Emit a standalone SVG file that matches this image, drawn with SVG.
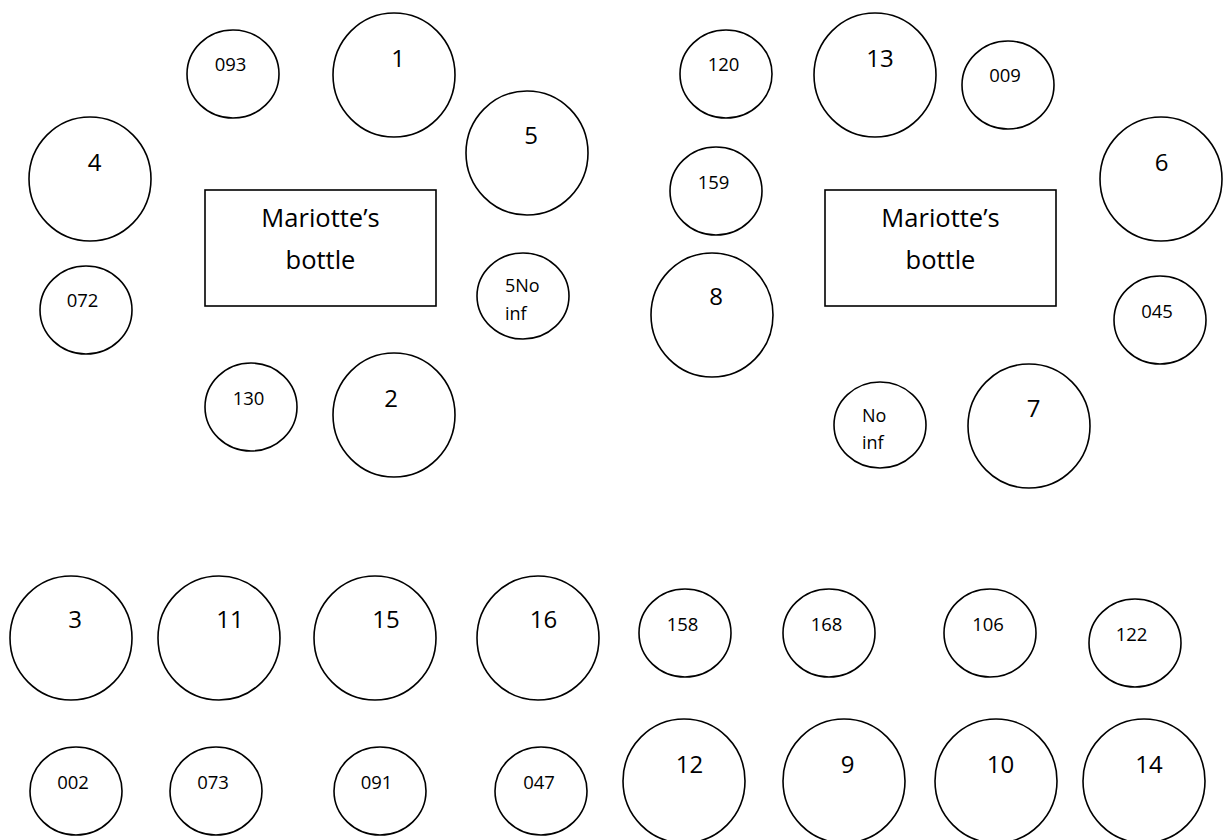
<svg xmlns="http://www.w3.org/2000/svg" width="1223" height="840" viewBox="0 0 1223 840">
<style>
  .c { fill: #ffffff; stroke: #000000; stroke-width: 1.6; }
  .b { fill: #ffffff; stroke: #000000; stroke-width: 1.6; }
  text { font-family: "Open Sans", "Liberation Sans", sans-serif; fill: #000000; }
  .s { font-size: 18.5px; text-anchor: middle; }
  .sl { font-size: 18px; }
  .L { font-size: 24px; text-anchor: middle; }
  .m { font-size: 25.5px; text-anchor: middle; }
</style>
<rect x="0" y="0" width="1223" height="840" fill="#ffffff"/>
<g id="connectors"/>

<g id="bottle-left"><rect class="b" x="205" y="190" width="231" height="116"/><text class="m" x="320.5" y="227">Mariotte’s</text><text class="m" x="320.5" y="269">bottle</text></g>
<g id="n093"><ellipse class="c" cx="233" cy="74" rx="46" ry="44"/><text class="s" x="230.5" y="71">093</text></g>
<g id="n1"><ellipse class="c" cx="394" cy="75" rx="61" ry="62"/><text class="L" x="398" y="67">1</text></g>
<g id="n4"><ellipse class="c" cx="90" cy="179" rx="61" ry="62"/><text class="L" x="94.5" y="171">4</text></g>
<g id="n072"><ellipse class="c" cx="86" cy="310" rx="46" ry="44"/><text class="s" x="82.5" y="307">072</text></g>
<g id="n5"><ellipse class="c" cx="527" cy="153" rx="61" ry="62"/><text class="L" x="531" y="144">5</text></g>
<g id="n5noinf"><ellipse class="c" cx="523" cy="296" rx="46" ry="43"/><text class="sl" x="505" y="292">5No</text><text class="sl" x="505" y="320">inf</text></g>
<g id="n130"><ellipse class="c" cx="251" cy="407" rx="46" ry="44"/><text class="s" x="248.5" y="405">130</text></g>
<g id="n2"><ellipse class="c" cx="394" cy="415" rx="61" ry="62"/><text class="L" x="391" y="407">2</text></g>

<g id="bottle-right"><rect class="b" x="825" y="190" width="231" height="116"/><text class="m" x="940.5" y="227">Mariotte’s</text><text class="m" x="940.5" y="269">bottle</text></g>
<g id="n120"><ellipse class="c" cx="726" cy="74" rx="46" ry="44"/><text class="s" x="723.5" y="71">120</text></g>
<g id="n13"><ellipse class="c" cx="875" cy="75" rx="61" ry="62"/><text class="L" x="880" y="67">13</text></g>
<g id="n009"><ellipse class="c" cx="1008" cy="85" rx="46" ry="44"/><text class="s" x="1005" y="82">009</text></g>
<g id="n159"><ellipse class="c" cx="716" cy="191" rx="46" ry="44"/><text class="s" x="713.5" y="189">159</text></g>
<g id="n8"><ellipse class="c" cx="712" cy="315" rx="61" ry="62"/><text class="L" x="716" y="305">8</text></g>
<g id="n6"><ellipse class="c" cx="1161" cy="179" rx="61" ry="62"/><text class="L" x="1161.5" y="171">6</text></g>
<g id="n045"><ellipse class="c" cx="1160" cy="320" rx="46" ry="44"/><text class="s" x="1157" y="318">045</text></g>
<g id="nnoinf"><ellipse class="c" cx="880" cy="425" rx="46" ry="43"/><text class="sl" x="862" y="422">No</text><text class="sl" x="862" y="449">inf</text></g>
<g id="n7"><ellipse class="c" cx="1029" cy="426" rx="61" ry="62"/><text class="L" x="1033.5" y="417">7</text></g>

<g id="n3"><ellipse class="c" cx="71" cy="638" rx="61" ry="62"/><text class="L" x="75" y="628">3</text></g>
<g id="n11"><ellipse class="c" cx="219" cy="638" rx="61" ry="62"/><text class="L" x="230" y="628">11</text></g>
<g id="n15"><ellipse class="c" cx="375" cy="638" rx="61" ry="62"/><text class="L" x="386" y="628">15</text></g>
<g id="n16"><ellipse class="c" cx="538" cy="638" rx="61" ry="62"/><text class="L" x="543.5" y="628">16</text></g>
<g id="n158"><ellipse class="c" cx="685" cy="633" rx="46" ry="44"/><text class="s" x="682.5" y="631">158</text></g>
<g id="n168"><ellipse class="c" cx="829" cy="633" rx="46" ry="44"/><text class="s" x="826.5" y="631">168</text></g>
<g id="n106"><ellipse class="c" cx="990" cy="633" rx="46" ry="44"/><text class="s" x="988" y="631">106</text></g>
<g id="n122"><ellipse class="c" cx="1135" cy="643" rx="46" ry="44"/><text class="s" x="1131.5" y="641">122</text></g>

<g id="n002"><ellipse class="c" cx="76" cy="791" rx="46" ry="44"/><text class="s" x="73" y="789">002</text></g>
<g id="n073"><ellipse class="c" cx="216" cy="791" rx="46" ry="44"/><text class="s" x="213" y="789">073</text></g>
<g id="n091"><ellipse class="c" cx="380" cy="791" rx="46" ry="44"/><text class="s" x="376.5" y="789">091</text></g>
<g id="n047"><ellipse class="c" cx="541" cy="791" rx="46" ry="44"/><text class="s" x="539" y="789">047</text></g>
<g id="n12"><ellipse class="c" cx="684" cy="781" rx="61" ry="62"/><text class="L" x="689.5" y="773">12</text></g>
<g id="n9"><ellipse class="c" cx="844" cy="781" rx="61" ry="62"/><text class="L" x="847.5" y="773">9</text></g>
<g id="n10"><ellipse class="c" cx="996" cy="781" rx="61" ry="62"/><text class="L" x="1000.5" y="773">10</text></g>
<g id="n14"><ellipse class="c" cx="1144" cy="781" rx="61" ry="62"/><text class="L" x="1149" y="773">14</text></g>
</svg>
